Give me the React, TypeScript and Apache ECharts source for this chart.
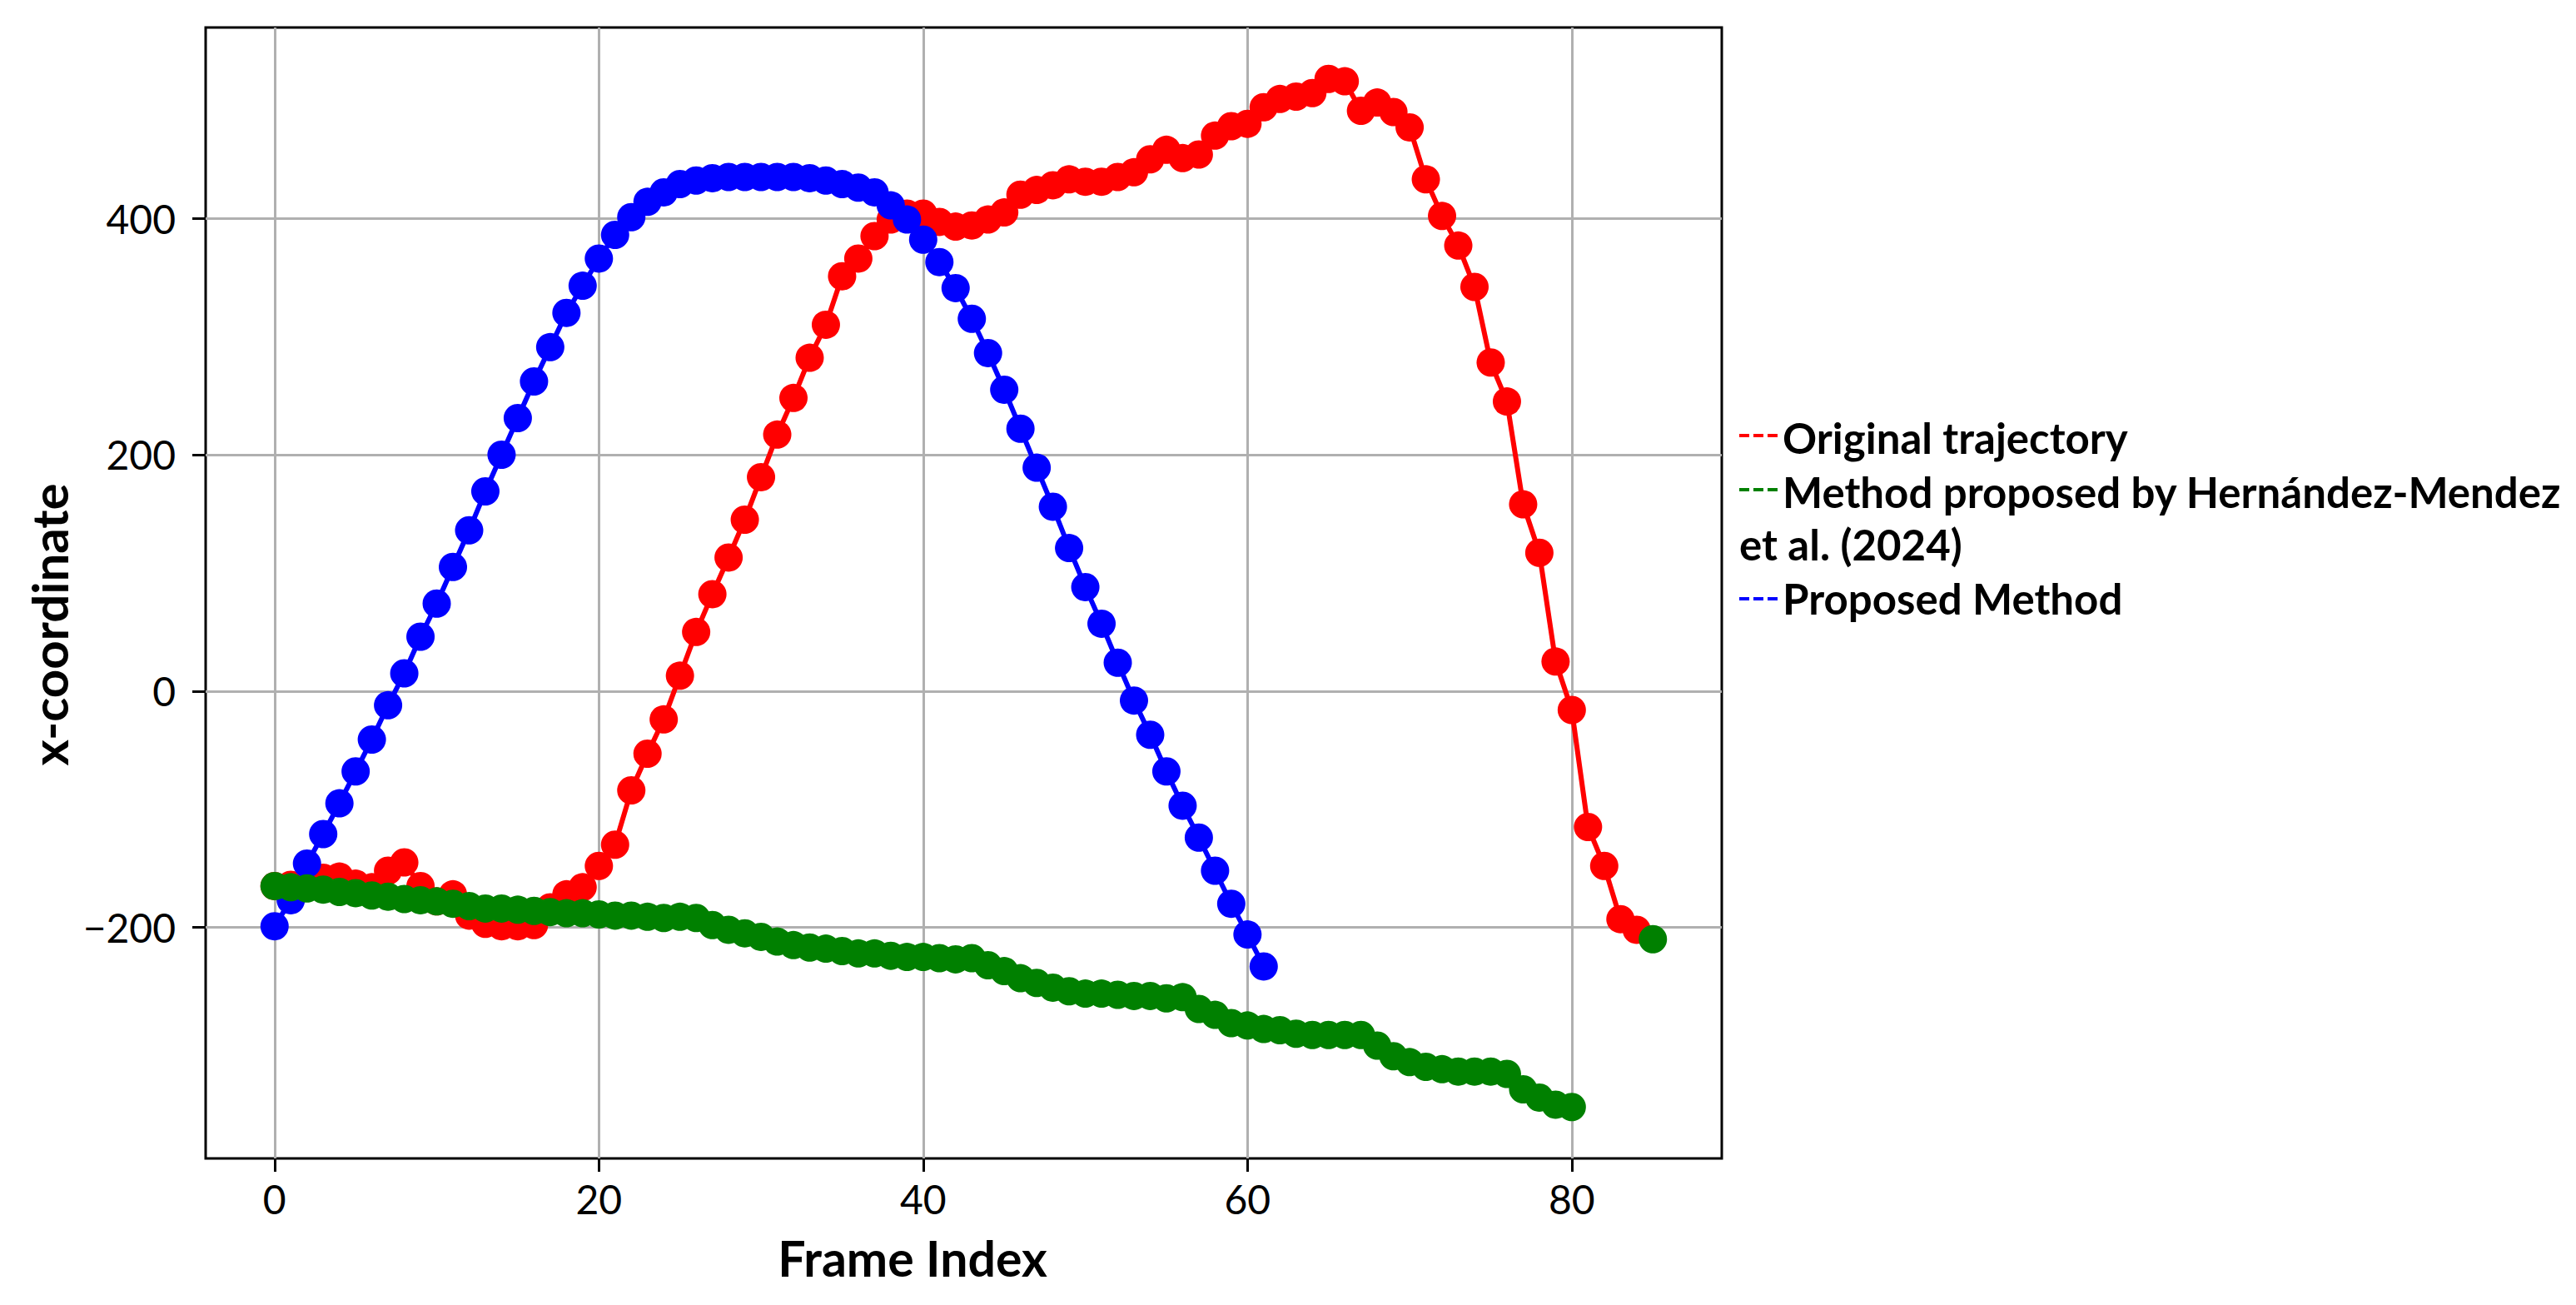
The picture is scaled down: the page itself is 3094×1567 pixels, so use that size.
import React, { useEffect, useRef } from "react";
import * as echarts from "echarts";

const originalTrajectory = [
  -165, -164, -162, -158, -157, -163, -166, -152, -145, -165,
  -178, -172, -190, -197, -199, -199, -198, -183, -172, -166,
  -148, -130, -84, -53, -24, 13, 50, 82, 113, 145,
  181, 217, 248, 282, 310, 351, 366, 385, 399, 404,
  404, 397, 393, 394, 399, 405, 420, 424, 428, 433,
  431, 431, 435, 439, 450, 458, 451, 454, 470, 478,
  480, 494, 501, 503, 506, 518, 516, 491, 498, 490,
  477, 433, 402, 377, 342, 278, 245, 158, 117, 25,
  -16, -115, -148, -193, -202, -210,
];

const hernandezMethod = [
  -165, -166, -167, -168, -170, -171, -173, -174, -176, -177,
  -178, -180, -182, -184, -184, -185, -186, -187, -188, -188,
  -189, -190, -190, -191, -192, -191, -192, -198, -202, -205,
  -208, -212, -215, -217, -218, -220, -222, -222, -224, -225,
  -225, -226, -227, -226, -232, -237, -243, -247, -251, -254,
  -256, -256, -257, -258, -258, -260, -259, -269, -274, -281,
  -283, -286, -287, -290, -291, -291, -291, -291, -300, -309,
  -314, -318, -320, -322, -322, -322, -324, -337, -344, -350,
  -352,
];

const proposedMethod = [
  -199, -177, -146, -121, -95, -68, -41, -12, 15, 46,
  74, 105, 136, 169, 200, 231, 262, 291, 320, 343,
  366, 386, 401, 414, 422, 429, 432, 434, 435, 435,
  435, 435, 435, 434, 432, 429, 426, 422, 411, 399,
  382, 363, 341, 315, 286, 255, 222, 189, 156, 121,
  88, 57, 24, -8, -37, -68, -97, -124, -152, -180,
  -206, -233,
];

const xTicks = [0, 20, 40, 60, 80];
const yTicks = [-200, 0, 200, 400];

const seriesNames = [
  "Original trajectory",
  "Method proposed by Hernández-Mendez et al. (2024)",
  "Proposed Method",
];

const FONT = "Lato, 'Noto Sans', sans-serif";

export default function App() {
  const ref = useRef<HTMLDivElement>(null);

  useEffect(() => {
    if (!ref.current) return;
    const chart = echarts.init(ref.current, undefined, { renderer: "svg" });

    const toPairs = (arr: number[]) => arr.map((v, i) => [i, v]);
    const redData: any[] = toPairs(originalTrajectory);
    const last = redData.length - 1;
    redData[last] = { value: redData[last], itemStyle: { color: "#008000" } };

    const mkSeries = (name: string, data: any[], color: string) => ({
      name,
      type: "line",
      data,
      symbol: "circle",
      symbolSize: 34,
      showSymbol: true,
      clip: false,
      lineStyle: { color, width: 6 },
      itemStyle: { color, borderWidth: 0 },
    });

    const legendLine = (y: number, color: string) => ({
      type: "line",
      shape: { x1: 2089, y1: y, x2: 2136, y2: y },
      style: { stroke: color, lineWidth: 4, lineDash: [12, 5] },
    });
    const legendText = (x: number, y: number, text: string) => ({
      type: "text",
      x,
      y,
      style: {
        text,
        fill: "#000",
        fontFamily: FONT,
        fontWeight: "bold",
        fontSize: 51,
        align: "left",
        verticalAlign: "middle",
      },
    });

    chart.setOption({
      animation: false,
      backgroundColor: "#ffffff",
      grid: {
        left: 247,
        top: 33,
        right: 1026,
        bottom: 176,
        show: true,
        borderColor: "#000",
        borderWidth: 3,
        backgroundColor: "transparent",
        containLabel: false,
        outerBoundsMode: "none",
      },
      xAxis: {
        type: "value",
        min: -4.25,
        max: 89.25,
        axisLine: { show: false, onZero: false },
        axisTick: {
          show: true,
          length: 16,
          lineStyle: { color: "#000", width: 3 },
          customValues: xTicks,
        },
        axisLabel: {
          customValues: xTicks,
          margin: 24,
          color: "#000",
          fontFamily: FONT,
          fontSize: 48,
        },
        splitLine: { show: true, lineStyle: { color: "#b0b0b0", width: 3 } },
      },
      yAxis: {
        type: "value",
        min: -395.5,
        max: 561.5,
        axisLine: { show: false, onZero: false },
        axisTick: {
          show: true,
          length: 16,
          lineStyle: { color: "#000", width: 3 },
          customValues: yTicks,
        },
        axisLabel: {
          customValues: yTicks,
          margin: 36,
          color: "#000",
          fontFamily: FONT,
          fontSize: 48,
          formatter: (v: number) => (v < 0 ? "\u2212" + Math.abs(v) : String(v)),
        },
        splitLine: { show: true, lineStyle: { color: "#b0b0b0", width: 3 } },
      },
      series: [
        mkSeries(seriesNames[0], redData, "#ff0000"),
        mkSeries(seriesNames[2], toPairs(proposedMethod), "#0000ff"),
        mkSeries(seriesNames[1], toPairs(hernandezMethod), "#008000"),
      ],
      graphic: [
        {
          type: "text",
          x: 1096,
          y: 1510,
          style: {
            text: "Frame Index",
            fill: "#000",
            fontFamily: FONT,
            fontWeight: "bold",
            fontSize: 59,
            align: "center",
            verticalAlign: "middle",
          },
        },
        {
          type: "text",
          x: 59,
          y: 750,
          rotation: Math.PI / 2,
          style: {
            text: "x-coordinate",
            fill: "#000",
            fontFamily: FONT,
            fontWeight: "bold",
            fontSize: 60,
            align: "center",
            verticalAlign: "middle",
          },
        },
        legendLine(523, "#ff0000"),
        legendText(2141, 525, "Original trajectory"),
        legendLine(588, "#008000"),
        legendText(2141, 590, "Method proposed by Hernández-Mendez"),
        legendText(2089, 653, "et al. (2024)"),
        legendLine(719, "#0000ff"),
        legendText(2141, 718, "Proposed Method"),
      ],
    });

    return () => chart.dispose();
  }, []);

  return (
    <div
      ref={ref}
      style={{ position: "fixed", left: 0, top: 0, width: "100vw", height: "100vh" }}
    />
  );
}
